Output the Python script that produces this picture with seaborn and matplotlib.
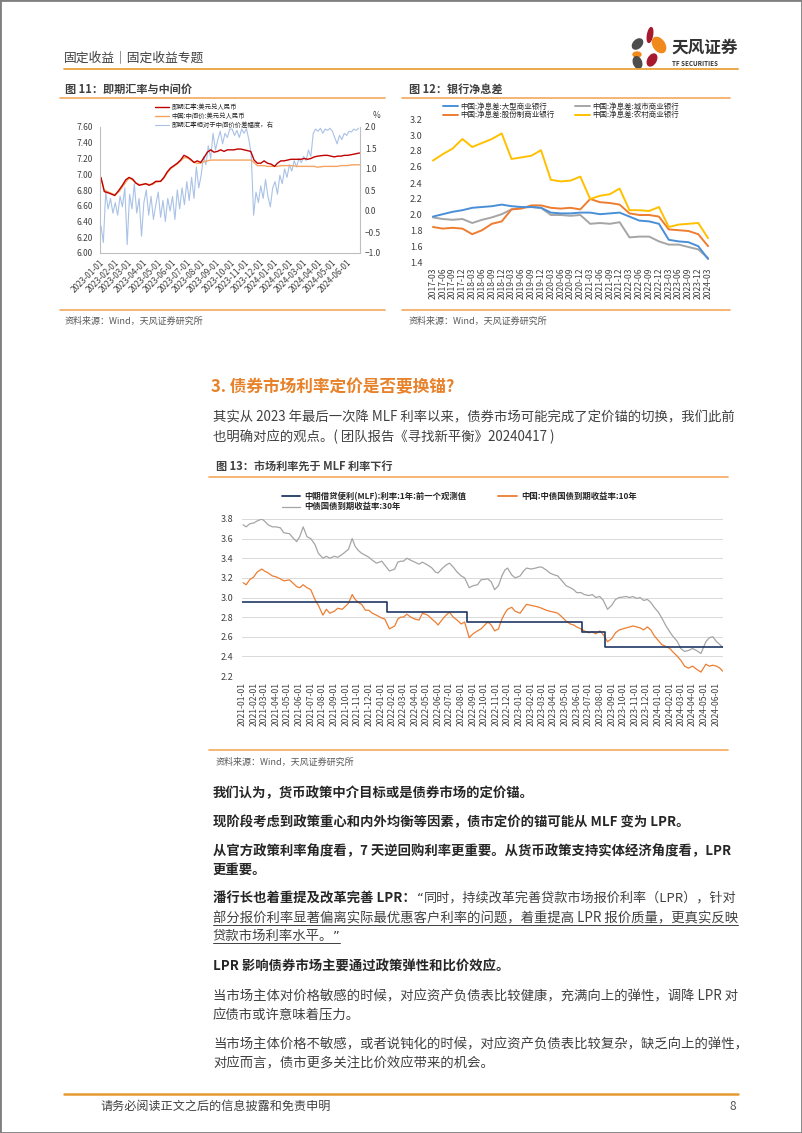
import matplotlib
matplotlib.use('Agg')
import matplotlib.pyplot as plt
import matplotlib.patches as mpatches
from matplotlib.lines import Line2D
import numpy as np
import pandas as pd
import seaborn as sns

W, H = 802, 1133

# ---------- 图11 即期汇率与中间价 ----------
fx_dates = ['2023-01-03', '2023-01-10', '2023-01-20', '2023-02-01', '2023-02-10', '2023-02-17',
            '2023-02-24', '2023-03-03', '2023-03-10', '2023-03-17', '2023-03-24', '2023-03-31',
            '2023-04-07', '2023-04-14', '2023-04-21', '2023-04-28', '2023-05-08', '2023-05-15',
            '2023-05-22', '2023-05-29', '2023-06-05', '2023-06-12', '2023-06-19', '2023-06-26',
            '2023-07-03', '2023-07-10', '2023-07-17', '2023-07-24', '2023-07-31', '2023-08-07',
            '2023-08-14', '2023-08-21', '2023-08-28', '2023-09-04', '2023-09-11', '2023-09-18',
            '2023-09-25', '2023-10-09', '2023-10-16', '2023-10-23', '2023-10-30', '2023-11-06',
            '2023-11-13', '2023-11-20', '2023-11-27', '2023-12-04', '2023-12-11', '2023-12-18',
            '2023-12-25', '2024-01-02', '2024-01-08', '2024-01-15', '2024-01-22', '2024-01-29',
            '2024-02-05', '2024-02-19', '2024-02-26', '2024-03-04', '2024-03-11', '2024-03-18',
            '2024-03-25', '2024-04-01', '2024-04-15', '2024-04-22', '2024-05-06', '2024-05-13',
            '2024-05-20', '2024-05-27', '2024-06-03', '2024-06-12', '2024-06-20', '2024-06-28']
fx_spot = [6.96, 6.78, 6.76, 6.73, 6.80, 6.86, 6.93, 6.96, 6.94, 6.89, 6.86, 6.87,
           6.88, 6.86, 6.88, 6.91, 6.91, 6.96, 7.03, 7.08, 7.11, 7.14, 7.18, 7.24,
           7.22, 7.19, 7.15, 7.17, 7.15, 7.21, 7.28, 7.31, 7.28, 7.29, 7.31, 7.29,
           7.31, 7.31, 7.32, 7.32, 7.31, 7.30, 7.29, 7.18, 7.14, 7.14, 7.17, 7.14,
           7.13, 7.10, 7.14, 7.17, 7.17, 7.18, 7.19, 7.19, 7.19, 7.20, 7.19, 7.20,
           7.22, 7.23, 7.24, 7.24, 7.22, 7.23, 7.23, 7.24, 7.24, 7.25, 7.26, 7.27]
fx_mid = [6.95, 6.80, 6.77, 6.74, 6.78, 6.84, 6.90, 6.95, 6.93, 6.89, 6.87, 6.87,
          6.88, 6.87, 6.87, 6.90, 6.91, 6.95, 7.02, 7.07, 7.10, 7.13, 7.17, 7.21,
          7.21, 7.18, 7.15, 7.14, 7.14, 7.16, 7.17, 7.18, 7.18, 7.18, 7.18, 7.18,
          7.18, 7.18, 7.18, 7.18, 7.18, 7.18, 7.18, 7.15, 7.11, 7.11, 7.11, 7.10,
          7.10, 7.10, 7.10, 7.11, 7.11, 7.11, 7.11, 7.10, 7.10, 7.10, 7.10, 7.10,
          7.10, 7.09, 7.10, 7.10, 7.10, 7.10, 7.11, 7.11, 7.11, 7.12, 7.12, 7.12]
# 价差幅度(%)，2023-01-03 起每 5 天一个点
spread_start = '2023-01-03'
spread = [-0.35, -0.75, 0.45, 0.05, 0.30, -0.05, 0.20, -0.10, 0.35, 0.10,
          0.55, -0.80, 0.40, 0.05, 0.65, -0.05, 0.30, -0.60, 0.20, 0.50,
          -0.10, 0.35, -0.20, 0.15, 0.45, -0.15, 0.25, -0.25, 0.30, 0.00,
          0.35, -0.20, 0.50, 0.05, 0.55, 0.15, 0.70, 0.25, 0.80, 0.30,
          1.05, 0.55, 0.85, 1.30, 1.10, 1.55, 1.25, 1.85, 1.45, 1.70,
          1.90, 1.60, 1.85, 1.75, 1.95, 1.95, 1.80, 1.92, 1.75, 1.95,
          1.85, 1.96, 1.70, 1.35, -0.10, 0.45, 0.20, 0.60, 0.30, 0.75,
          0.35, 0.10, 0.55, 0.70, 0.40, 0.85, 0.65, 1.00, 0.80, 1.10,
          0.95, 1.20, 1.05, 1.25, 1.15, 1.30, 1.20, 1.45, 1.30, 1.85,
          1.95, 1.90, 1.97, 1.85, 1.95, 1.92, 1.97, 1.90, 1.75, 1.60,
          1.80, 1.70, 1.85, 1.80, 1.90, 1.88, 1.95, 1.92, 1.97]

# ---------- 图12 银行净息差 ----------
nim_quarters = [f'{y}-{m:02d}' for y in range(2017, 2025) for m in (3, 6, 9, 12)][:29]
nim_large = [1.98, 2.01, 2.04, 2.06, 2.09, 2.10, 2.11, 2.13, 2.11, 2.10, 2.10, 2.09, 2.03, 2.02, 2.02,
             2.03, 2.03, 2.01, 2.02, 2.03, 1.98, 1.93, 1.92, 1.89, 1.69, 1.67, 1.66, 1.61, 1.45]
nim_city = [1.97, 1.95, 1.94, 1.95, 1.90, 1.94, 1.97, 2.01, 2.07, 2.09, 2.10, 2.09, 2.00, 2.00, 1.99,
            2.00, 1.89, 1.90, 1.89, 1.91, 1.72, 1.73, 1.73, 1.67, 1.63, 1.63, 1.60, 1.57, 1.46]
nim_joint = [1.85, 1.83, 1.84, 1.83, 1.76, 1.81, 1.89, 1.92, 2.07, 2.08, 2.12, 2.12, 2.09, 2.08, 2.09,
             2.07, 2.20, 2.16, 2.15, 2.13, 2.02, 2.00, 2.00, 1.98, 1.82, 1.81, 1.80, 1.76, 1.61]
nim_rural = [2.68, 2.76, 2.83, 2.95, 2.85, 2.90, 2.95, 3.02, 2.70, 2.72, 2.74, 2.81, 2.44, 2.42, 2.43,
             2.48, 2.20, 2.24, 2.26, 2.33, 2.06, 2.06, 2.05, 2.10, 1.85, 1.88, 1.89, 1.90, 1.71]

# ---------- 图13 市场利率先于 MLF 利率下行 ----------
mlf_dates = ['2021-01-01', '2022-01-17', '2022-08-15', '2023-06-15', '2023-08-15', '2024-06-19']
mlf = [2.95, 2.85, 2.75, 2.65, 2.50, 2.50]
bond_dates = ['2021-01-04', '2021-01-12', '2021-01-21', '2021-02-01', '2021-02-10', '2021-02-22',
              '2021-03-01', '2021-03-11', '2021-03-22', '2021-04-01', '2021-04-12', '2021-04-21',
              '2021-05-06', '2021-05-17', '2021-05-25', '2021-06-02', '2021-06-11', '2021-06-21',
              '2021-07-01', '2021-07-12', '2021-07-21', '2021-08-02', '2021-08-11', '2021-08-20',
              '2021-09-01', '2021-09-10', '2021-09-22', '2021-10-08', '2021-10-18', '2021-10-26',
              '2021-11-03', '2021-11-12', '2021-11-22', '2021-12-01', '2021-12-10', '2021-12-21',
              '2022-01-04', '2022-01-12', '2022-01-24', '2022-02-07', '2022-02-15', '2022-02-23',
              '2022-03-02', '2022-03-11', '2022-03-21', '2022-04-01', '2022-04-12', '2022-04-21',
              '2022-05-05', '2022-05-16', '2022-05-25', '2022-06-01', '2022-06-13', '2022-06-22',
              '2022-07-01', '2022-07-11', '2022-07-21', '2022-08-01', '2022-08-10', '2022-08-22',
              '2022-09-01', '2022-09-13', '2022-09-22', '2022-10-10', '2022-10-19', '2022-10-28',
              '2022-11-07', '2022-11-16', '2022-11-24', '2022-12-01', '2022-12-12', '2022-12-21',
              '2023-01-03', '2023-01-12', '2023-01-20', '2023-02-01', '2023-02-13', '2023-02-22',
              '2023-03-01', '2023-03-13', '2023-03-22', '2023-04-03', '2023-04-12', '2023-04-21',
              '2023-05-04', '2023-05-15', '2023-05-24', '2023-06-01', '2023-06-12', '2023-06-21',
              '2023-07-03', '2023-07-12', '2023-07-21', '2023-08-01', '2023-08-10', '2023-08-21',
              '2023-09-01', '2023-09-11', '2023-09-21', '2023-10-09', '2023-10-18', '2023-10-27',
              '2023-11-06', '2023-11-15', '2023-11-24', '2023-12-04', '2023-12-13', '2023-12-22',
              '2024-01-02', '2024-01-11', '2024-01-22', '2024-02-01', '2024-02-08', '2024-02-21',
              '2024-03-01', '2024-03-11', '2024-03-21', '2024-04-01', '2024-04-11', '2024-04-23',
              '2024-05-06', '2024-05-15', '2024-05-24', '2024-06-03', '2024-06-12', '2024-06-19']
cgb10 = [3.15, 3.13, 3.18, 3.21, 3.26, 3.29, 3.27, 3.25, 3.22, 3.21, 3.19, 3.17,
         3.18, 3.14, 3.11, 3.10, 3.13, 3.10, 3.08, 2.98, 2.92, 2.82, 2.88, 2.84,
         2.86, 2.89, 2.88, 2.94, 3.03, 2.98, 2.95, 2.93, 2.87, 2.87, 2.84, 2.82,
         2.79, 2.78, 2.68, 2.71, 2.78, 2.80, 2.80, 2.83, 2.80, 2.78, 2.77, 2.84,
         2.82, 2.78, 2.75, 2.72, 2.78, 2.82, 2.85, 2.80, 2.77, 2.73, 2.75, 2.59,
         2.63, 2.66, 2.68, 2.75, 2.72, 2.66, 2.68, 2.78, 2.84, 2.88, 2.90, 2.86,
         2.84, 2.89, 2.93, 2.92, 2.91, 2.90, 2.89, 2.87, 2.86, 2.85, 2.84, 2.81,
         2.76, 2.73, 2.72, 2.70, 2.68, 2.66, 2.64, 2.65, 2.63, 2.66, 2.62, 2.55,
         2.58, 2.64, 2.67, 2.69, 2.70, 2.71, 2.70, 2.69, 2.67, 2.70, 2.67, 2.61,
         2.56, 2.52, 2.50, 2.48, 2.45, 2.40, 2.36, 2.30, 2.28, 2.30, 2.27, 2.24,
         2.32, 2.30, 2.31, 2.30, 2.28, 2.25]
cgb30 = [3.74, 3.72, 3.75, 3.76, 3.78, 3.80, 3.78, 3.74, 3.72, 3.72, 3.71, 3.66,
         3.65, 3.60, 3.57, 3.62, 3.72, 3.62, 3.60, 3.54, 3.45, 3.40, 3.42, 3.40,
         3.42, 3.41, 3.44, 3.49, 3.60, 3.52, 3.48, 3.45, 3.43, 3.41, 3.38, 3.35,
         3.37, 3.33, 3.27, 3.29, 3.36, 3.37, 3.37, 3.40, 3.38, 3.36, 3.34, 3.36,
         3.33, 3.30, 3.26, 3.25, 3.30, 3.33, 3.35, 3.31, 3.26, 3.22, 3.20, 3.10,
         3.12, 3.13, 3.18, 3.19, 3.16, 3.08, 3.12, 3.22, 3.28, 3.30, 3.23, 3.20,
         3.22, 3.27, 3.30, 3.29, 3.30, 3.31, 3.31, 3.28, 3.25, 3.23, 3.22, 3.18,
         3.12, 3.10, 3.08, 3.05, 3.05, 3.03, 3.02, 3.03, 3.00, 3.01, 2.97, 2.88,
         2.92, 2.98, 3.00, 3.01, 3.00, 3.01, 2.99, 3.00, 2.97, 2.98, 2.95, 2.90,
         2.85, 2.79, 2.71, 2.65, 2.61, 2.55, 2.48, 2.45, 2.46, 2.48, 2.46, 2.43,
         2.55, 2.59, 2.60, 2.55, 2.52, 2.49]

sns.set_theme(style='white')
plt.rcParams['font.family'] = ['Noto Sans CJK SC', 'DejaVu Sans']
plt.rcParams['axes.unicode_minus'] = True
FAM = ['Noto Sans CJK SC', 'DejaVu Sans']

fig = plt.figure(figsize=(W / 100, H / 100), dpi=100)


def rect(x0, y0, x1, y1):
    return [x0 / W, 1 - y1 / H, (x1 - x0) / W, (y1 - y0) / H]


def txt(x, y, s, size, color='#404040', weight='normal', ha='left', family=None):
    kw = {'family': family} if family else {}
    return fig.text(x / W, 1 - y / H, s, fontsize=size, color=color,
                    fontweight=weight, ha=ha, va='center', **kw)


def hline(y, x0, x1, color, lw):
    fig.add_artist(Line2D([x0 / W, x1 / W], [1 - y / H, 1 - y / H], color=color,
                          lw=lw, transform=fig.transFigure))


# page frame, header, logo
fig.add_artist(mpatches.Rectangle((0, 0), 1, 1, transform=fig.transFigure, fill=False,
                                  edgecolor='#7F7F7F', lw=2))
txt(64, 58, '固定收益｜固定收益专题', 9.2)
hline(68.5, 64, 738, '#E8A23A', 1.3)
logo = fig.add_axes(rect(628, 25, 670, 70))
logo.set_xlim(628, 670)
logo.set_ylim(70, 25)
logo.axis('off')
for (cx, cy, w, h, ang, c) in [(650, 35, 5, 15, 10, '#A6192E'), (637.5, 44, 8, 12, 45, '#4D4D4D'),
                               (659, 45, 11, 17, -35, '#F08A1C'), (637, 54.5, 8, 5, 0, '#F08A1C'),
                               (637.5, 62.5, 8, 12, -20, '#4D4D4D'), (652, 60, 8, 13, 30, '#A6192E')]:
    logo.add_patch(mpatches.Ellipse((cx, cy), w, h, angle=ang, color=c))
txt(671, 48, '天风证券', 12, color='#333333', weight='bold')
txt(672, 64, 'TF SECURITIES', 4.5, color='#333333', weight='bold')

# chart titles / source lines
TITLE_LINE = '#F5A95B'
txt(65, 89, '图 11：即期汇率与中间价', 8, weight='bold')
hline(98, 60, 385, TITLE_LINE, 1.2)
hline(310, 60, 385, TITLE_LINE, 1.2)
txt(65, 321, '资料来源：Wind，天风证券研究所', 6.5, color='#595959')
txt(409, 89, '图 12：银行净息差', 8, weight='bold')
hline(98, 402, 730, TITLE_LINE, 1.2)
hline(310, 402, 730, TITLE_LINE, 1.2)
txt(409, 321, '资料来源：Wind，天风证券研究所', 6.5, color='#595959')

# ---------- 图11 ----------
ax1 = fig.add_axes(rect(100, 127, 360, 253))
ax1b = ax1.twinx()
df11 = pd.DataFrame({'date': pd.to_datetime(fx_dates), 'spot': fx_spot, 'mid': fx_mid})
spread_dates = pd.date_range(spread_start, periods=len(spread), freq='5D')
sns.lineplot(x=spread_dates, y=spread, ax=ax1b, color='#A9C2E6', lw=0.8)
sns.lineplot(x='date', y='mid', data=df11, ax=ax1, color='#F4A460', lw=1.0)
sns.lineplot(x='date', y='spot', data=df11, ax=ax1, color='#C00000', lw=1.0)
ax1.set_zorder(ax1b.get_zorder() + 1)
ax1.patch.set_visible(False)
ax1.set_xlim(pd.Timestamp('2023-01-01'), pd.Timestamp('2024-06-29'))
ax1.set_ylim(6.0, 7.6)
ax1b.set_ylim(-1.0, 2.0)
yt = np.arange(6.0, 7.61, 0.2)
ax1.set_yticks(yt)
ax1.set_yticklabels([f'{v:.2f}' for v in yt])
yt2 = np.arange(-1.0, 2.01, 0.5)
ax1b.set_yticks(yt2)
ax1b.set_yticklabels([f'{v:.1f}'.replace('-', '−') for v in yt2])
months11 = pd.date_range('2023-01-01', '2024-06-01', freq='MS')
ax1.set_xticks(months11)
ax1.set_xticklabels([d.strftime('%Y-%m-%d') for d in months11], rotation=45, ha='right',
                    rotation_mode='anchor')
for a in (ax1, ax1b):
    a.set_xlabel('')
    a.set_ylabel('')
    for s in a.spines.values():
        s.set_color('#BFBFBF')
        s.set_linewidth(0.8)
    a.spines['top'].set_visible(False)
ax1.spines['right'].set_visible(False)
ax1b.spines['left'].set_visible(False)
ax1b.spines['bottom'].set_visible(False)
ax1.tick_params(axis='y', labelsize=6, colors='#404040', length=0, pad=5)
ax1.tick_params(axis='x', labelsize=6, colors='#404040', length=2, width=0.6, pad=1.5)
ax1b.tick_params(axis='y', labelsize=6, colors='#404040', length=0, pad=3.5)
txt(373, 116, '%', 6)
h11 = [Line2D([], [], color='#C00000', lw=1.0), Line2D([], [], color='#F4A460', lw=1.0),
       Line2D([], [], color='#A9C2E6', lw=0.8)]
ax1.legend(h11, ['即期汇率:美元兑人民币', '中国:中间价:美元兑人民币', '即期汇率相对于中间价价差幅度，右'],
           loc='upper left', bbox_to_anchor=(155 / W, 1 - 103 / H), bbox_transform=fig.transFigure,
           frameon=False, prop={'family': FAM, 'size': 4.6}, handlelength=2.2, handletextpad=0.4,
           labelspacing=0.15, borderpad=0, borderaxespad=0)

# ---------- 图12 ----------
ax2 = fig.add_axes(rect(428, 119, 713, 263))
xs = np.arange(len(nim_quarters))
series12 = [('中国:净息差:大型商业银行', nim_large, '#4A8FD6'),
            ('中国:净息差:股份制商业银行', nim_joint, '#ED7D31'),
            ('中国:净息差:城市商业银行', nim_city, '#A5A5A5'),
            ('中国:净息差:农村商业银行', nim_rural, '#FFC000')]
for name, vals, col in [series12[2], series12[1], series12[0], series12[3]]:
    sns.lineplot(x=xs, y=vals, ax=ax2, color=col, lw=1.4)
ax2.set_xlim(-0.5, 28.5)
ax2.set_ylim(1.4, 3.2)
yt12 = np.arange(1.4, 3.21, 0.2)
ax2.set_yticks(yt12)
ax2.set_yticklabels([f'{v:.1f}' for v in yt12])
ax2.set_xticks(xs)
ax2.set_xticklabels(nim_quarters, rotation=90)
ax2.tick_params(axis='y', labelsize=6.5, colors='#404040', length=0, pad=4)
ax2.tick_params(axis='x', labelsize=6.2, colors='#404040', length=0, pad=3)
for s in ax2.spines.values():
    s.set_visible(False)
h12 = [Line2D([], [], color=c, lw=1.4) for _, _, c in series12]
ax2.legend(h12, [n for n, _, _ in series12], ncol=2, loc='upper left',
           bbox_to_anchor=(443 / W, 1 - 103 / H), bbox_transform=fig.transFigure,
           frameon=False, prop={'family': FAM, 'size': 5.4}, handlelength=2.0, handletextpad=0.3,
           labelspacing=0.05, columnspacing=2.7, borderpad=0, borderaxespad=0)

# ---------- 第3节文字 ----------
txt(211, 387, '3. 债券市场利率定价是否要换锚?', 12, color='#E8822A', weight='bold')
txt(213, 417, '其实从 2023 年最后一次降 MLF 利率以来，债券市场可能完成了定价锚的切换，我们此前', 9.6)
txt(213, 437, '也明确对应的观点。( 团队报告《寻找新平衡》20240417 )', 9.6)
txt(216, 466, '图 13：市场利率先于 MLF 利率下行', 8, weight='bold')
hline(477, 209, 728, TITLE_LINE, 1.2)
hline(750, 209, 728, TITLE_LINE, 1.2)
txt(216, 762, '资料来源：Wind，天风证券研究所', 6.5, color='#595959')

# ---------- 图13 ----------
ax3 = fig.add_axes(rect(242, 519, 723, 676))
sns.lineplot(x=pd.to_datetime(bond_dates), y=cgb30, ax=ax3, color='#A5A5A5', lw=0.9)
sns.lineplot(x=pd.to_datetime(bond_dates), y=cgb10, ax=ax3, color='#ED7D31', lw=0.9)
sns.lineplot(x=pd.to_datetime(mlf_dates), y=mlf, ax=ax3, color='#1F3864', lw=1.2,
             drawstyle='steps-post')
ax3.set_xlim(pd.Timestamp('2021-01-01'), pd.Timestamp('2024-06-20'))
ax3.set_ylim(2.2, 3.8)
yt13 = np.arange(2.2, 3.81, 0.2)
ax3.set_yticks(yt13)
ax3.set_yticklabels([f'{v:.1f}' for v in yt13])
months13 = pd.date_range('2021-01-01', '2024-06-01', freq='MS')
ax3.set_xticks(months13)
ax3.set_xticklabels([d.strftime('%Y-%m-%d') for d in months13], rotation=90)
ax3.grid(axis='y', color='#D9D9D9', lw=0.7)
ax3.set_axisbelow(True)
for s in ax3.spines.values():
    s.set_visible(False)
ax3.tick_params(axis='y', labelsize=6.5, colors='#404040', length=0, pad=6)
ax3.tick_params(axis='x', labelsize=6.2, colors='#404040', length=0, pad=4)
ax3.set_xlabel('')
ax3.set_ylabel('')
h13 = [Line2D([], [], color='#1F3864', lw=1.3), Line2D([], [], color='#A5A5A5', lw=0.9),
       Line2D([], [], color='#ED7D31', lw=1.3)]
ax3.legend(h13, ['中期借贷便利(MLF):利率:1年:前一个观测值', '中债国债到期收益率:30年',
                 '中国:中债国债到期收益率:10年'], ncol=2, loc='upper left',
           bbox_to_anchor=(282 / W, 1 - 492 / H), bbox_transform=fig.transFigure,
           frameon=False, prop={'family': FAM, 'size': 6, 'weight': 'bold'}, handlelength=2.2,
           handletextpad=0.5, labelspacing=0.15, columnspacing=3.8, borderpad=0, borderaxespad=0)

# ---------- 正文 ----------
r = fig.canvas.get_renderer()
BODY = 9.6
BOLD_C = '#262626'
REG_C = '#404040'
QUOTE_FAM = ['DejaVu Sans']


def underline(x0, x1, y_disp):
    fig.add_artist(Line2D([x0 / W, x1 / W], [y_disp / H, y_disp / H], color=REG_C, lw=0.7,
                          transform=fig.transFigure))


txt(213, 793, '我们认为，货币政策中介目标或是债券市场的定价锚。', BODY, BOLD_C, 'bold')
txt(213, 822, '现阶段考虑到政策重心和内外均衡等因素，债市定价的锚可能从 MLF 变为 LPR。', BODY, BOLD_C, 'bold')
txt(213, 851, '从官方政策利率角度看，7 天逆回购利率更重要。从货币政策支持实体经济角度看，LPR', BODY, BOLD_C, 'bold')
txt(213, 870, '更重要。', BODY, BOLD_C, 'bold')
t_b = txt(213, 899, '潘行长也着重提及改革完善 LPR：', BODY, BOLD_C, 'bold')
bb = t_b.get_window_extent(renderer=r)
t_q0 = txt(bb.x1 + 1, 899, '“', BODY, REG_C, family=QUOTE_FAM)
bb = t_q0.get_window_extent(renderer=r)
txt(bb.x1, 899, '同时，持续改革完善贷款市场报价利率（LPR），针对', 9.45, REG_C)
t_u1 = txt(213, 918, '部分报价利率显著偏离实际最优惠客户利率的问题，着重提高 LPR 报价质量，更真实反映', BODY, REG_C)
bb = t_u1.get_window_extent(renderer=r)
underline(bb.x0, bb.x1, bb.y0 + 0.5)
t_u2 = txt(213, 936, '贷款市场利率水平。', BODY, REG_C)
bb = t_u2.get_window_extent(renderer=r)
t_q = txt(bb.x1, 936, '”', BODY, REG_C, family=QUOTE_FAM)
bbq = t_q.get_window_extent(renderer=r)
underline(bb.x0, bbq.x1, bb.y0 + 0.5)
txt(213, 967, 'LPR 影响债券市场主要通过政策弹性和比价效应。', BODY, BOLD_C, 'bold')
txt(213, 996, '当市场主体对价格敏感的时候，对应资产负债表比较健康，充满向上的弹性，调降 LPR 对', BODY, REG_C)
txt(213, 1015, '应债市或许意味着压力。', BODY, REG_C)
txt(213, 1044, '当市场主体价格不敏感，或者说钝化的时候，对应资产负债表比较复杂，缺乏向上的弹性，', BODY, REG_C)
txt(213, 1063, '对应而言，债市更多关注比价效应带来的机会。', BODY, REG_C)

# footer
hline(1094, 64, 738, '#E59A2F', 1.8)
txt(100, 1106, '请务必阅读正文之后的信息披露和免责申明', 8.7)
txt(736, 1106, '8', 8.7, ha='right', color='#595959')

fig.savefig('out.png', dpi=100)
